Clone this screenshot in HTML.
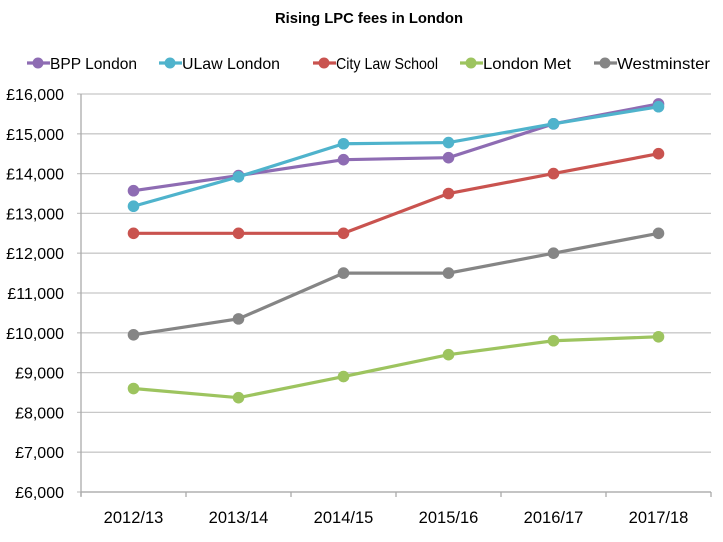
<!DOCTYPE html>
<html><head><meta charset="utf-8"><style>
body{margin:0;background:#fff}
svg text{font-family:"Liberation Sans",sans-serif;fill:#000}
</style></head><body>
<svg width="723" height="537">
<text x="369" y="23" text-anchor="middle" font-size="15" font-weight="bold" textLength="188" lengthAdjust="spacingAndGlyphs">Rising LPC fees in London</text>
<g id="legend"></g>
<g id="grid"></g>
<g id="series"></g>
<g id="axes"></g>
</svg>
<script>
const categories=["2012/13","2013/14","2014/15","2015/16","2016/17","2017/18"];
const bpp=[13570,13950,14350,14400,15250,15750];
const ulaw=[13180,13920,14750,14780,15250,15680];
const city=[12500,12500,12500,13500,14000,14500];
const londonMet=[8600,8370,8900,9450,9800,9900];
const westminster=[9950,10350,11500,11500,12000,12500];
const yTicks=[6000,7000,8000,9000,10000,11000,12000,13000,14000,15000,16000];
const seriesNames=["BPP London","ULaw London","City Law School","London Met","Westminster"];
const seriesColors=["#8e6cb3","#4fb3cc","#c9534f","#9dc45f","#858585"];
const seriesData=[bpp,ulaw,city,londonMet,westminster];
const legendTextX=[50,182,336,483,617];
const legendTextW=[87,98,102,88,93];
const NS="http://www.w3.org/2000/svg";
const L=81,R=711,T=94,B=492,yMin=6000,yMax=16000;
const xs=i=>L+(R-L)/categories.length*(i+0.5);
const ys=v=>B-(v-yMin)/(yMax-yMin)*(B-T);
function mk(tag,attrs,parent){const e=document.createElementNS(NS,tag);for(const k in attrs)e.setAttribute(k,attrs[k]);document.getElementById(parent).appendChild(e);return e;}
yTicks.forEach(v=>{
 const g=mk("line",{x1:77,x2:R,y1:ys(v),y2:ys(v),stroke:"#c8c8c8","stroke-width":1.3},"grid");
 
 
 const t=mk("text",{x:64,y:ys(v)+6,"text-anchor":"end","font-size":16},"axes");
 t.textContent="£"+v.toLocaleString("en-US");
 
 
});
const ax=mk("line",{x1:L,x2:L,y1:T,y2:B+4,stroke:"#aaa","stroke-width":1.3},"axes");


const bx=mk("line",{x1:L,x2:R,y1:B,y2:B,stroke:"#aaa","stroke-width":1.3},"axes");


for(let i=0;i<=categories.length;i++){
 const tk=mk("line",{x1:L+(R-L)/categories.length*i,x2:L+(R-L)/categories.length*i,y1:B,y2:B+5,stroke:"#aaa","stroke-width":1.3},"axes");
 
 
}
categories.forEach((c,i)=>{
 const t=mk("text",{x:xs(i),y:523,"text-anchor":"middle","font-size":16.5},"axes");
 t.textContent=c;
 
 
});
seriesData.forEach((d,s)=>{
 const p=mk("polyline",{points:d.map((v,i)=>xs(i)+","+ys(v)).join(" "),fill:"none",stroke:seriesColors[s],"stroke-width":3.2},"series");
 
 
 d.forEach((v,i)=>{
  const c=mk("circle",{cx:xs(i),cy:ys(v),r:5.8,fill:seriesColors[s]},"series");
  
  
 });
 const tx=legendTextX[s];
 const ll=mk("line",{x1:tx-23,x2:tx,y1:63,y2:63,stroke:seriesColors[s],"stroke-width":3.2},"legend");
 
 
 const lc=mk("circle",{cx:tx-12,cy:63,r:5.5,fill:seriesColors[s]},"legend");
 
 
 const lt=mk("text",{x:tx,y:69,"font-size":16,textLength:legendTextW[s],lengthAdjust:"spacingAndGlyphs"},"legend");
 lt.textContent=seriesNames[s];
 
 
});
</script>
</body></html>
